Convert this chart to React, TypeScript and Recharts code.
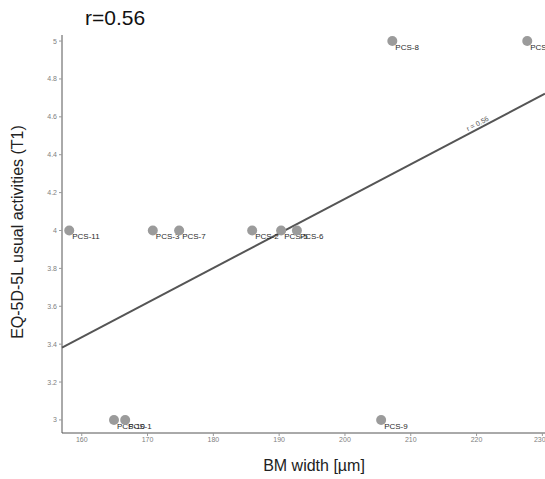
import React from "react";
import {
  ScatterChart,
  Scatter,
  XAxis,
  YAxis,
  ReferenceLine,
  ReferenceDot,
} from "recharts";

const labels = ["PCS-11", "PCS-3", "PCS-7", "PCS-2", "PCS-5", "PCS-6", "PCS-8", "PCS-4", "PCS-10", "PCS-1", "PCS-9"];
const bmWidth = [158.1, 170.8, 174.8, 185.9, 190.3, 192.7, 207.2, 227.7, 164.9, 166.6, 205.5];
const usualActivities = [4, 4, 4, 4, 4, 4, 5, 5, 3, 3, 3];

const xTicks = [160, 170, 180, 190, 200, 210, 220, 230];
const yTicks = [3, 3.2, 3.4, 3.6, 3.8, 4, 4.2, 4.4, 4.6, 4.8, 5];
const xDomain: [number, number] = [157, 230.4];
const yDomain: [number, number] = [2.931, 5.032];
const labelAtX = 220.5;

const chartW = 545;
const chartH = 479;
const margin = { top: 35, right: 0, bottom: 0, left: 0 };
const yAxisW = 62;
const xAxisH = 46;

const points = labels.map((name, i) => ({ name, x: bmWidth[i], y: usualActivities[i] }));

// least squares fit, drawn across the visible x range
function fit() {
  const n = bmWidth.length;
  const mx = bmWidth.reduce((a, b) => a + b, 0) / n;
  const my = usualActivities.reduce((a, b) => a + b, 0) / n;
  let sxy = 0;
  let sxx = 0;
  let syy = 0;
  for (let i = 0; i < n; i++) {
    sxy += (bmWidth[i] - mx) * (usualActivities[i] - my);
    sxx += (bmWidth[i] - mx) ** 2;
    syy += (usualActivities[i] - my) ** 2;
  }
  const slope = sxy / sxx;
  return { slope, intercept: my - slope * mx, r: sxy / Math.sqrt(sxx * syy) };
}

const { slope, intercept, r } = fit();
const rText = r.toFixed(2);

// angle of the fit line on screen
const plotW = chartW - margin.left - margin.right - yAxisW;
const plotH = chartH - margin.top - margin.bottom - xAxisH;
const pxSlope =
  (slope * plotH) / (yDomain[1] - yDomain[0]) / (plotW / (xDomain[1] - xDomain[0]));
const lineAngle = (-Math.atan(pxSlope) * 180) / Math.PI;

const PointShape = (props: any) => {
  const { cx, cy, payload } = props;
  return (
    <g>
      <circle cx={cx} cy={cy} r={5} fill="#9b9b9b" />
      <text x={cx + 3} y={cy + 9} fontSize={8} fill="#2a2a2a" fontFamily="Arial, Liberation Sans, sans-serif">
        {payload.name}
      </text>
    </g>
  );
};

const LineLabel = (props: any) => {
  const { cx, cy } = props;
  if (cx == null || cy == null) return null;
  return (
    <text
      x={cx}
      y={cy - 2.5}
      fontSize={7}
      fill="#555"
      fontFamily="Arial, Liberation Sans, sans-serif"
      textAnchor="middle"
      transform={`rotate(${lineAngle} ${cx} ${cy})`}
    >
      {`r = ${rText}`}
    </text>
  );
};

const tickStyle = { fontSize: 7, fill: "#808080", fontFamily: "Arial, Liberation Sans, sans-serif" };

export default function App() {
  return (
    <div
      style={{
        position: "fixed",
        left: 0,
        top: 0,
        width: chartW,
        height: chartH,
        overflow: "hidden",
        background: "#fff",
        fontFamily: "Arial, Liberation Sans, sans-serif",
      }}
    >
      <div style={{ position: "absolute", left: 85, top: 6, fontSize: 21, color: "#111" }}>r={rText}</div>
      <div
        style={{
          position: "absolute",
          left: 18,
          top: 232,
          fontSize: 16,
          color: "#222",
          whiteSpace: "nowrap",
          transform: "translate(-50%, -50%) rotate(-90deg)",
        }}
      >
        EQ-5D-5L usual activities (T1)
      </div>
      <div
        style={{
          position: "absolute",
          left: 314,
          top: 466,
          fontSize: 16,
          color: "#222",
          whiteSpace: "nowrap",
          transform: "translate(-50%, -50%)",
        }}
      >
        BM width [µm]
      </div>
      <ScatterChart width={chartW} height={chartH} margin={margin}>
        <XAxis
          type="number"
          dataKey="x"
          domain={xDomain}
          ticks={xTicks}
          allowDataOverflow
          height={xAxisH}
          stroke="#555"
          tickSize={3}
          tickMargin={1}
          tick={tickStyle}
          tickLine={{ stroke: "#999" }}
        />
        <YAxis
          type="number"
          dataKey="y"
          domain={yDomain}
          ticks={yTicks}
          allowDataOverflow
          width={yAxisW}
          stroke="#555"
          tickSize={3}
          tickMargin={2}
          tick={tickStyle}
          tickLine={{ stroke: "#999" }}
        />
        <ReferenceLine
          segment={[
            { x: xDomain[0], y: intercept + slope * xDomain[0] },
            { x: xDomain[1], y: intercept + slope * xDomain[1] },
          ]}
          stroke="#555"
          strokeWidth={2}
          ifOverflow="visible"
        />
        <ReferenceDot
          x={labelAtX}
          y={intercept + slope * labelAtX}
          ifOverflow="visible"
          shape={<LineLabel />}
        />
        <Scatter data={points} shape={<PointShape />} isAnimationActive={false} />
      </ScatterChart>
    </div>
  );
}
